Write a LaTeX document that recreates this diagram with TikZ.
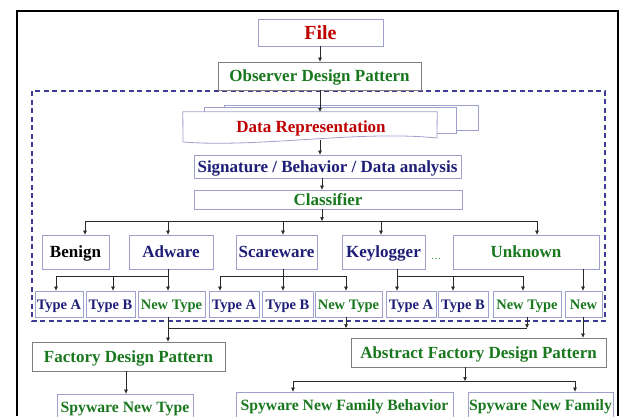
\documentclass[tikz,border=0pt]{standalone}
\usepackage{fontspec}
\setmainfont{Liberation Serif}
\usetikzlibrary{arrows.meta,calc}
\definecolor{cred}{RGB}{192,0,0}
\definecolor{cgreen}{RGB}{25,120,30}
\definecolor{cnavy}{RGB}{30,30,120}
\definecolor{boxc}{RGB}{160,160,205}
\definecolor{greyc}{RGB}{125,125,125}
\definecolor{dashc}{RGB}{60,60,150}
\definecolor{linec}{RGB}{40,40,40}
\begin{document}
\begin{tikzpicture}[x=1pt,y=-1pt,
  fbig/.style={font=\bfseries\fontsize{17}{17}\selectfont, text height=11.6pt, text depth=0pt},
  ftype/.style={font=\bfseries\fontsize{14.5}{14.5}\selectfont, text height=10pt, text depth=0pt},
  fspy/.style={font=\bfseries\fontsize{15.7}{15.7}\selectfont, text height=10.8pt, text depth=0pt},
  ffile/.style={font=\bfseries\fontsize{20}{20}\selectfont, text height=13.6pt, text depth=0pt},
  box/.style={draw=boxc, line width=0.8pt, fill=white, inner sep=0pt, fbig},
  gbox/.style={box, draw=greyc},
  tred/.style={text=cred},
  tgreen/.style={text=cgreen},
  tnavy/.style={text=cnavy},
  ln/.style={draw=linec, line width=0.7pt},
  arr/.style={ln, -{Triangle[length=4pt,width=3.5pt]}},
  docline/.style={draw=boxc, line width=0.8pt, fill=white}]
\useasboundingbox (0,0) rectangle (620,416);
\clip (0,0) rectangle (620,416);
% outer frame
\draw[line width=1.4pt] (17,416) |- (618,11) -- (618,416);
% dashed region
\draw[dashc, line width=1.2pt, dash pattern=on 5pt off 3.5pt] (32,91) rectangle (605,321);
% top
\node[box, tred, ffile, minimum width=125, minimum height=27] (file) at (320.5,32.5) {File};
\node[gbox, tgreen, minimum width=203, minimum height=28] (obs) at (319.5,76) {Observer Design Pattern};
% data representation (stacked documents)
\draw[docline] (224,130) -- (224,105) -- (478,105) -- (478,130) -- cycle;
\draw[docline] (204,133) -- (204,107) -- (456,107) -- (456,133) -- cycle;
\node[inner sep=0pt, minimum width=254, minimum height=26] (data) at (310,125) {};
\draw[docline] (data.north west) -- (data.north east) -- (437,138) .. controls (360,130) and (260,148) .. (183,142) -- cycle;
\node[tred, fbig, inner sep=0pt] at (311,127) {Data Representation};
\coordinate (spine) at (320,0);
\draw[arr] (file.south -| spine) -- (obs.north -| spine);
\draw[arr] (obs.south -| spine) -- (data.north -| spine);
\node[box, tnavy, minimum width=267, minimum height=23] (sig) at (327.5,166.5) {Signature / Behavior / Data analysis};
\draw[arr] ($(data.south -| spine)+(0,2)$) -- (sig.north -| spine);
\node[box, tgreen, minimum width=268, minimum height=19] (cls) at (328,199.5) {Classifier};
\coordinate (spine2) at (322,0);
\draw[arr] (sig.south -| spine2) -- (cls.north -| spine2);
% row 1
\node[box, minimum width=67, minimum height=34] (ben) at (75.5,252) {Benign};
\node[box, tnavy, minimum width=84, minimum height=34] (adw) at (171,252) {Adware};
\node[box, tnavy, minimum width=81, minimum height=34] (scw) at (276.5,252) {Scareware};
\node[box, tnavy, minimum width=83, minimum height=34] (key) at (383.5,252) {Keylogger};
\node[box, tgreen, minimum width=146, minimum height=34] (unk) at (526,252) {Unknown};
\node[tgreen, inner sep=0pt, font=\fontsize{10}{10}\selectfont] (dots) at (436,259) {\dots};
\coordinate (k0) at (322,221);
\coordinate (k1) at (85,221);
\coordinate (k2) at (168,221);
\coordinate (k3) at (283,221);
\coordinate (k4) at (381,221);
\coordinate (k5) at (537,221);
\draw[arr] (cls.south -| k0) -- (k0);
\draw[ln] (k1) -- (k5);
\draw[arr] (k1) -- (ben.north -| k1);
\draw[arr] (k2) -- (adw.north -| k2);
\draw[arr] (k3) -- (scw.north -| k3);
\draw[arr] (k4) -- (key.north -| k4);
\draw[arr] (k5) -- (unk.north -| k5);
% row 2
\node[box, tnavy, ftype, minimum width=48, minimum height=26] (ta1) at (59,304) {Type A};
\node[box, tnavy, ftype, minimum width=49, minimum height=26] (tb1) at (110.5,304) {Type B};
\node[box, tgreen, ftype, minimum width=67, minimum height=26] (nt1) at (171.5,304) {New Type};
\node[box, tnavy, ftype, minimum width=50, minimum height=26] (ta2) at (234,304) {Type A};
\node[box, tnavy, ftype, minimum width=51, minimum height=26] (tb2) at (287.5,304) {Type B};
\node[box, tgreen, ftype, minimum width=67, minimum height=26] (nt2) at (348.5,304) {New Type};
\node[box, tnavy, ftype, minimum width=50, minimum height=26] (ta3) at (411,304) {Type A};
\node[box, tnavy, ftype, minimum width=50, minimum height=26] (tb3) at (463,304) {Type B};
\node[box, tgreen, ftype, minimum width=68, minimum height=26] (nt3) at (527,304) {New Type};
\node[box, tgreen, ftype, minimum width=37, minimum height=26] (new) at (583.5,304) {New};
% adware bus
\coordinate (a0) at (168,276);
\coordinate (a1) at (56,276);
\coordinate (a2) at (113,276);
\draw[ln] (adw.south -| a0) -- (a0) -- (a1);
\draw[arr] (a1) -- (ta1.north -| a1);
\draw[arr] (a2) -- (tb1.north -| a2);
\draw[arr] (a0) -- (nt1.north -| a0);
% scareware bus
\coordinate (s0) at (283,276);
\coordinate (s1) at (220,276);
\coordinate (s2) at (346,276);
\draw[ln] (scw.south -| s0) -- (s0);
\draw[ln] (s1) -- (s2);
\draw[arr] (s1) -- (ta2.north -| s1);
\draw[arr] (s0) -- (tb2.north -| s0);
\draw[arr] (s2) -- (nt2.north -| s2);
% keylogger bus
\coordinate (g0) at (397,276);
\coordinate (g1) at (453,276);
\coordinate (g2) at (523,276);
\draw[ln] (key.south -| g0) -- (g0) -- (g2);
\draw[arr] (g0) -- (ta3.north -| g0);
\draw[arr] (g1) -- (tb3.north -| g1);
\draw[arr] (g2) -- (nt3.north -| g2);
% unknown
\coordinate (u0) at (583,0);
\draw[arr] (unk.south -| u0) -- (new.north -| u0);
% lower part
\node[gbox, tgreen, minimum width=193, minimum height=29] (fac) at (128.5,356.5) {Factory Design Pattern};
\node[gbox, tgreen, minimum width=255, minimum height=29] (abs) at (478.5,352.5) {Abstract Factory Design Pattern};
\coordinate (n1) at (168,328);
\coordinate (n2) at (346,328);
\coordinate (n3) at (527,328);
\draw[ln] (n1) -- (n3);
\draw[arr] (nt1.south -| n1) -- (fac.north -| n1);
\draw[arr] (nt2.south -| n2) -- (n2);
\draw[arr] (nt3.south -| n3) -- (n3);
\draw[arr] (new.south -| u0) -- (abs.north -| u0);
\node[box, tgreen, fspy, minimum width=136, minimum height=27] (snt) at (125,407.5) {Spyware New Type};
\node[box, tgreen, fspy, minimum width=217, minimum height=27] (snfb) at (344.5,405.5) {Spyware New Family Behavior};
\node[box, tgreen, fspy, minimum width=145, minimum height=27] (snf) at (540.5,405.5) {Spyware New Family};
\coordinate (f0) at (126,0);
\draw[arr] (fac.south -| f0) -- (snt.north -| f0);
\coordinate (m0) at (465,381);
\coordinate (m1) at (293,381);
\coordinate (m2) at (575,381);
\draw[arr] (abs.south -| m0) -- (m0);
\draw[ln] (m1) -- (m2);
\draw[arr] (m1) -- (snfb.north -| m1);
\draw[arr] (m2) -- (snf.north -| m2);
\end{tikzpicture}
\end{document}
